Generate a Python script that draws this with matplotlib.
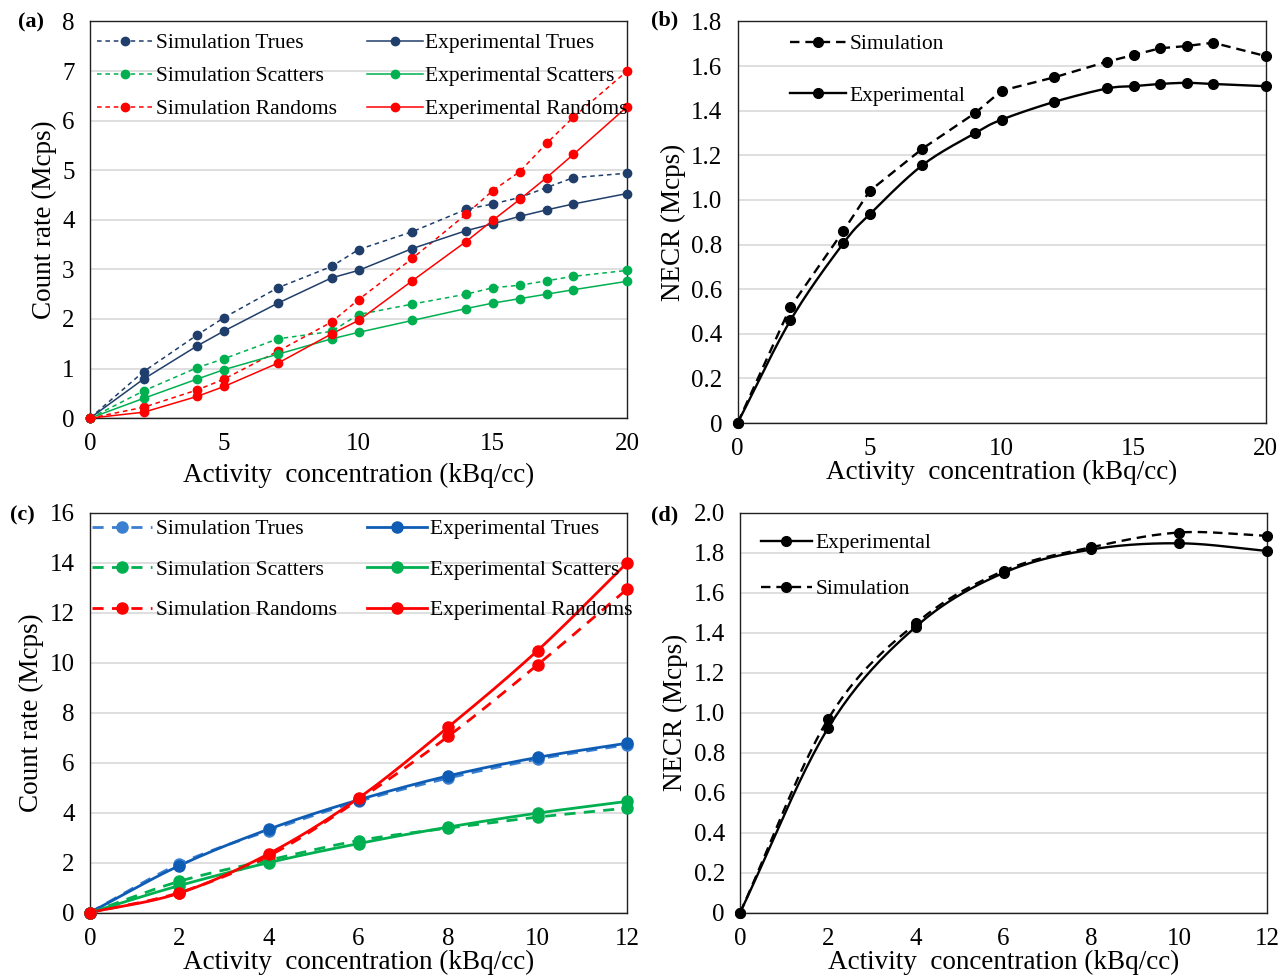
import numpy as np
import matplotlib
matplotlib.use("Agg")
import matplotlib.pyplot as plt
from matplotlib.ticker import FuncFormatter

plt.rcParams["font.family"] = ["Liberation Serif", "DejaVu Serif"]

# ---- panel (a): count rates, 20 kBq/cc scan
act_a = [0, 2, 4, 5, 7, 9, 10, 12, 14, 15, 16, 17, 18, 20]
sim_trues_a = [0, 0.94, 1.68, 2.03, 2.63, 3.06, 3.40, 3.76, 4.21, 4.32, 4.45, 4.65, 4.85, 4.94]
exp_trues_a = [0, 0.79, 1.46, 1.76, 2.32, 2.83, 2.98, 3.42, 3.78, 3.92, 4.07, 4.20, 4.32, 4.53]
sim_scat_a = [0, 0.55, 1.02, 1.20, 1.60, 1.75, 2.09, 2.30, 2.50, 2.63, 2.68, 2.77, 2.86, 2.98]
exp_scat_a = [0, 0.40, 0.79, 0.98, 1.29, 1.60, 1.73, 1.97, 2.21, 2.32, 2.41, 2.50, 2.59, 2.76]
sim_rand_a = [0, 0.22, 0.57, 0.79, 1.35, 1.94, 2.39, 3.22, 4.11, 4.59, 4.97, 5.54, 6.07, 7.00]
exp_rand_a = [0, 0.12, 0.44, 0.64, 1.11, 1.70, 1.97, 2.77, 3.56, 3.99, 4.41, 4.85, 5.32, 6.28]

# ---- panel (b): NECR, same scan
sim_necr_b = [0, 0.52, 0.86, 1.04, 1.23, 1.39, 1.49, 1.55, 1.62, 1.65, 1.68, 1.69, 1.705, 1.645]
exp_necr_b = [0, 0.46, 0.805, 0.935, 1.156, 1.30, 1.36, 1.44, 1.50, 1.51, 1.52, 1.525, 1.52, 1.51]

# ---- panel (c): count rates, 12 kBq/cc scan
act_c = [0, 2, 4, 6, 8, 10, 12]
sim_trues_c = [0, 1.95, 3.28, 4.45, 5.38, 6.14, 6.72]
exp_trues_c = [0, 1.88, 3.34, 4.51, 5.47, 6.21, 6.78]
sim_scat_c = [0, 1.25, 2.10, 2.88, 3.38, 3.82, 4.18]
exp_scat_c = [0, 1.08, 2.00, 2.76, 3.42, 3.98, 4.45]
sim_rand_c = [0, 0.80, 2.27, 4.51, 7.05, 9.92, 12.95]
exp_rand_c = [0, 0.78, 2.36, 4.58, 7.42, 10.49, 14.0]

# ---- panel (d): NECR, 12 kBq/cc scan
exp_necr_d = [0, 0.922, 1.43, 1.70, 1.817, 1.848, 1.81]
sim_necr_d = [0, 0.967, 1.447, 1.71, 1.828, 1.902, 1.885]

NAVY, GREEN, RED = "#203e6c", "#00b050", "#ff0000"
BLUE_SIM, BLUE_EXP = "#3a7fd0", "#0f5cb5"
TICK_FS, LABEL_FS, LEG_FS = 18, 19.5, 15.5


def smooth(x, y, n=24):
    """Catmull-Rom curve through the points (Excel-style smoothed line)."""
    x = np.asarray(x, float); y = np.asarray(y, float)
    px = np.concatenate([[2 * x[0] - x[1]], x, [2 * x[-1] - x[-2]]])
    py = np.concatenate([[2 * y[0] - y[1]], y, [2 * y[-1] - y[-2]]])
    xs, ys = [], []
    t = np.linspace(0, 1, n, endpoint=False)
    for i in range(1, len(px) - 2):
        for p, out in ((px, xs), (py, ys)):
            p0, p1, p2, p3 = p[i - 1], p[i], p[i + 1], p[i + 2]
            out.extend(0.5 * (2 * p1 + (-p0 + p2) * t + (2 * p0 - 5 * p1 + 4 * p2 - p3) * t ** 2
                              + (-p0 + 3 * p1 - 3 * p2 + p3) * t ** 3))
    xs.append(x[-1]); ys.append(y[-1])
    return np.array(xs), np.array(ys)


def series(ax, x, y, color, dashed, lw, ms, dash, label, smoothed=False):
    ls = (0, dash) if dashed else "-"
    if smoothed:
        sx, sy = smooth(x, y)
        ax.plot(sx, sy, color=color, lw=lw, ls=ls, clip_on=False, zorder=3)
    else:
        ax.plot(x, y, color=color, lw=lw, ls=ls, clip_on=False, zorder=3)
    ax.plot(x, y, ls="none", marker="o", ms=ms, color=color, clip_on=False, zorder=4)
    # proxy for the legend (line + marker)
    h, = ax.plot([], [], color=color, lw=lw, ls=ls, marker="o", ms=ms, label=label)
    return h


def frame(ax, xmax, ymax, ystep, yfmt, xticks, ylabel, xlabelpad=0):
    ax.set_xlim(0, xmax); ax.set_ylim(0, ymax)
    ax.set_xticks(xticks)
    ax.set_yticks(np.round(np.arange(0, ymax + ystep / 2, ystep), 3))
    ax.yaxis.set_major_formatter(FuncFormatter(yfmt))
    ax.grid(axis="y", color="#d9d9d9", lw=1.2)
    ax.set_axisbelow(True)
    ax.tick_params(length=0, labelsize=TICK_FS)
    ax.tick_params(axis="x", pad=11)
    ax.tick_params(axis="y", pad=11)
    for s in ax.spines.values():
        s.set_color("#202020"); s.set_linewidth(1.0)
    ax.set_xlabel("Activity  concentration (kBq/cc)", fontsize=LABEL_FS, labelpad=xlabelpad)
    ax.set_ylabel(ylabel, fontsize=LABEL_FS, labelpad=4)


int_fmt = lambda v, p: f"{v:.0f}"
dec_fmt = lambda v, p: "0" if abs(v) < 1e-9 else f"{v:.1f}"

fig = plt.figure(figsize=(12.85, 9.77), dpi=100)
ax_a = fig.add_axes([0.070, 0.572, 0.418, 0.406])
ax_b = fig.add_axes([0.574, 0.567, 0.411, 0.411])
ax_c = fig.add_axes([0.070, 0.066, 0.418, 0.409])
ax_d = fig.add_axes([0.576, 0.066, 0.410, 0.409])

# (a)
d_a = (3, 2.5)
hs = [series(ax_a, act_a, sim_trues_a, NAVY, True, 1.1, 6, d_a, "Simulation Trues"),
      series(ax_a, act_a, sim_scat_a, GREEN, True, 1.1, 6, d_a, "Simulation Scatters"),
      series(ax_a, act_a, sim_rand_a, RED, True, 1.1, 6, d_a, "Simulation Randoms"),
      series(ax_a, act_a, exp_trues_a, NAVY, False, 1.1, 6, d_a, "Experimental Trues"),
      series(ax_a, act_a, exp_scat_a, GREEN, False, 1.1, 6, d_a, "Experimental Scatters"),
      series(ax_a, act_a, exp_rand_a, RED, False, 1.1, 6, d_a, "Experimental Randoms")]
frame(ax_a, 20, 8, 1, int_fmt, [0, 5, 10, 15, 20], "Count rate (Mcps)", xlabelpad=5)
ax_a.legend(handles=hs, ncol=2, loc="upper left", frameon=False, fontsize=LEG_FS,
            handlelength=2.6, handletextpad=0.1, columnspacing=1.4, labelspacing=0.6,
            borderaxespad=0.0, borderpad=0.55, bbox_to_anchor=(-0.008, 1.0))

# (b)
d_b = (4, 2.5)
hb = [series(ax_b, act_a, sim_necr_b, "black", True, 1.7, 7, d_b, "Simulation"),
      series(ax_b, act_a, exp_necr_b, "black", False, 1.7, 7, d_b, "Experimental", smoothed=True)]
frame(ax_b, 20, 1.8, 0.2, dec_fmt, [0, 5, 10, 15, 20], "NECR (Mcps)")
ax_b.legend(handles=hb, loc="upper left", frameon=False, fontsize=LEG_FS, handlelength=2.6,
            handletextpad=0.15, labelspacing=1.45, borderaxespad=0.0, borderpad=0.6,
            bbox_to_anchor=(0.075, 1.0))

# (c)
d_c = (4, 3)
hc = [series(ax_c, act_c, sim_trues_c, BLUE_SIM, True, 2.0, 8, d_c, "Simulation Trues", True),
      series(ax_c, act_c, sim_scat_c, GREEN, True, 2.0, 8, d_c, "Simulation Scatters", True),
      series(ax_c, act_c, sim_rand_c, RED, True, 2.0, 8, d_c, "Simulation Randoms", True),
      series(ax_c, act_c, exp_trues_c, BLUE_EXP, False, 2.0, 8, d_c, "Experimental Trues", True),
      series(ax_c, act_c, exp_scat_c, GREEN, False, 2.0, 8, d_c, "Experimental Scatters", True),
      series(ax_c, act_c, exp_rand_c, RED, False, 2.0, 8, d_c, "Experimental Randoms", True)]
frame(ax_c, 12, 16, 2, int_fmt, [0, 2, 4, 6, 8, 10, 12], "Count rate (Mcps)")
ax_c.legend(handles=hc, ncol=2, loc="upper left", frameon=False, fontsize=LEG_FS,
            handlelength=2.8, handletextpad=0.15, columnspacing=1.4, labelspacing=0.95,
            borderaxespad=0.0, borderpad=0.3, bbox_to_anchor=(-0.008, 1.0))

# (d)
d_d = (4, 2.5)
hd = [series(ax_d, act_c, exp_necr_d, "black", False, 1.7, 7, d_d, "Experimental", True),
      series(ax_d, act_c, sim_necr_d, "black", True, 1.7, 7, d_d, "Simulation", True)]
frame(ax_d, 12, 2.0, 0.2, dec_fmt, [0, 2, 4, 6, 8, 10, 12], "NECR (Mcps)")
ax_d.legend(handles=hd, loc="upper left", frameon=False, fontsize=LEG_FS, handlelength=2.4,
            handletextpad=0.15, labelspacing=1.2, borderaxespad=0.0, borderpad=0.95,
            bbox_to_anchor=(0.0, 1.0))

for lab, x, y in (("(a)", 0.014, 0.977), ("(b)", 0.507, 0.979), ("(c)", 0.008, 0.472), ("(d)", 0.507, 0.472)):
    fig.text(x, y, lab, fontsize=16, fontweight="bold", va="center")

fig.savefig("out.png", dpi=100)
